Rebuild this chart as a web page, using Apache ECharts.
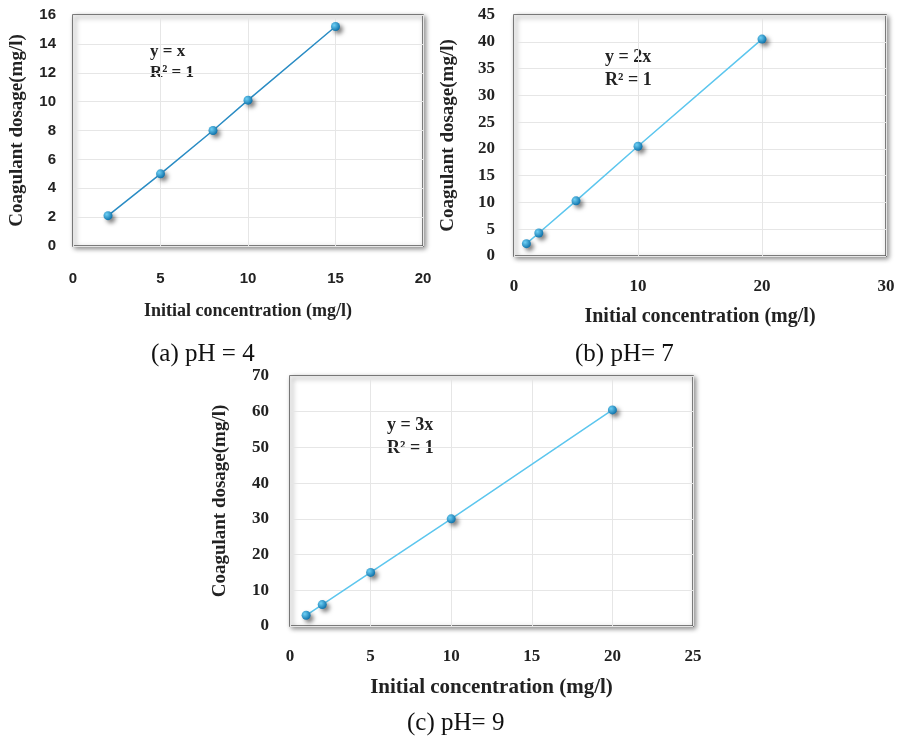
<!DOCTYPE html>
<html>
<head>
<meta charset="utf-8">
<script src="https://cdn.jsdelivr.net/npm/echarts@6/dist/echarts.min.js"></script>
<style>
html, body { margin: 0; padding: 0; background: #fff; }
#main { width: 899px; height: 736px; }
</style>
</head>
<body>
<div id="main"></div>
<script>
// pH = 4
var xA = [2, 5, 8, 10, 15];
var yA = [2.1, 5, 8, 10.1, 15.2];
// pH = 7
var xB = [1, 2, 5, 10, 20];
var yB = [2.3, 4.3, 10.3, 20.5, 40.5];
// pH = 9
var xC = [1, 2, 5, 10, 20];
var yC = [3, 6, 15, 30, 60.5];

var captions = ['(a) pH = 4', '(b) pH= 7', '(c) pH= 9'];
var equations = [['y = x', 'R² = 1'], ['y = 2x', 'R² = 1'], ['y = 3x', 'R² = 1']];
var xName = 'Initial concentration (mg/l)';
var yName = 'Coagulant dosage(mg/l)';

var serif = '"Liberation Serif", "DejaVu Serif", serif';
var sans = '"Liberation Sans", Arial, sans-serif';

var chart = echarts.init(document.getElementById('main'));

function pairs(xs, ys) {
    return xs.map(function (x, i) { return [x, ys[i]]; });
}

function makeGrid(left, top, width, height) {
    return {
        left: left, top: top, width: width, height: height,
        show: true,
        borderColor: '#555',
        borderWidth: 1.5,
        backgroundColor: '#fff',
        shadowColor: 'rgba(0,0,0,0.45)',
        shadowBlur: 5,
        shadowOffsetX: 2,
        shadowOffsetY: 2
    };
}

function makeX(idx, max, interval, font, size, nameSize, nameGap, margin) {
    return {
        gridIndex: idx, type: 'value', min: 0, max: max, interval: interval,
        name: xName, nameLocation: 'middle', nameGap: nameGap,
        nameTextStyle: { fontFamily: serif, fontWeight: 'bold', fontSize: nameSize, color: '#222' },
        axisLine: { show: false },
        axisTick: { show: false },
        axisLabel: { margin: margin, fontFamily: font, fontWeight: 'bold', fontSize: size, color: '#222' },
        splitLine: { show: true, lineStyle: { color: '#e6e6e6', width: 1 } }
    };
}

function makeY(idx, max, interval, font, size, nameGap, margin) {
    return {
        gridIndex: idx, type: 'value', min: 0, max: max, interval: interval,
        name: yName, nameLocation: 'middle', nameGap: nameGap,
        nameTextStyle: { fontFamily: serif, fontWeight: 'bold', fontSize: 19, color: '#222' },
        axisLine: { show: false },
        axisTick: { show: false },
        axisLabel: { margin: margin, fontFamily: font, fontWeight: 'bold', fontSize: size, color: '#222' },
        splitLine: { show: true, lineStyle: { color: '#e6e6e6', width: 1 } }
    };
}

function makeSeries(idx, data, lineColor) {
    return {
        type: 'line', xAxisIndex: idx, yAxisIndex: idx,
        data: data,
        symbol: 'circle', symbolSize: 9,
        itemStyle: {
            color: new echarts.graphic.RadialGradient(0.35, 0.35, 0.7, [
                { offset: 0, color: '#6fd0f5' },
                { offset: 1, color: '#0b6fa8' }
            ]),
            shadowColor: 'rgba(0,0,0,0.5)',
            shadowBlur: 4,
            shadowOffsetX: 3,
            shadowOffsetY: 3
        },
        lineStyle: { color: lineColor, width: 1.5 },
        z: 3
    };
}

function eqText(left, top, lines, size, lh) {
    return {
        type: 'text', left: left, top: top,
        style: {
            text: lines.join('\n'),
            fontFamily: 'Liberation Serif',
            fontWeight: 'bold',
            fontSize: size,
            lineHeight: lh,
            fill: '#222'
        }
    };
}

function caption(text, left, top) {
    return {
        text: text, left: left, top: top,
        textStyle: { fontFamily: serif, fontWeight: 'normal', fontSize: 25, color: '#111' }
    };
}

chart.setOption({
    animation: false,
    title: [
        caption(captions[0], 146, 337),
        caption(captions[1], 570, 337),
        caption(captions[2], 402, 706)
    ],
    grid: [
        makeGrid(73, 15, 350, 231),
        makeGrid(514, 15, 372, 241),
        makeGrid(290, 376, 403, 250)
    ],
    xAxis: [
        makeX(0, 20, 5, sans, 15, 18, 56, 25),
        makeX(1, 30, 10, serif, 17, 20, 51, 22),
        makeX(2, 25, 5, serif, 17, 21, 51, 22)
    ],
    yAxis: [
        makeY(0, 16, 2, sans, 15, 46, 17),
        makeY(1, 45, 5, serif, 17, 56, 19),
        makeY(2, 70, 10, serif, 17, 60, 21)
    ],
    series: [
        makeSeries(0, pairs(xA, yA), '#2a8cc4'),
        makeSeries(1, pairs(xB, yB), '#5cc6ee'),
        makeSeries(2, pairs(xC, yC), '#5cc6ee')
    ],
    graphic: [
        eqText(150, 41, equations[0], 17, 21),
        eqText(605, 46, equations[1], 18, 23),
        eqText(387, 414, equations[2], 18, 23)
    ]
});
</script>
</body>
</html>
